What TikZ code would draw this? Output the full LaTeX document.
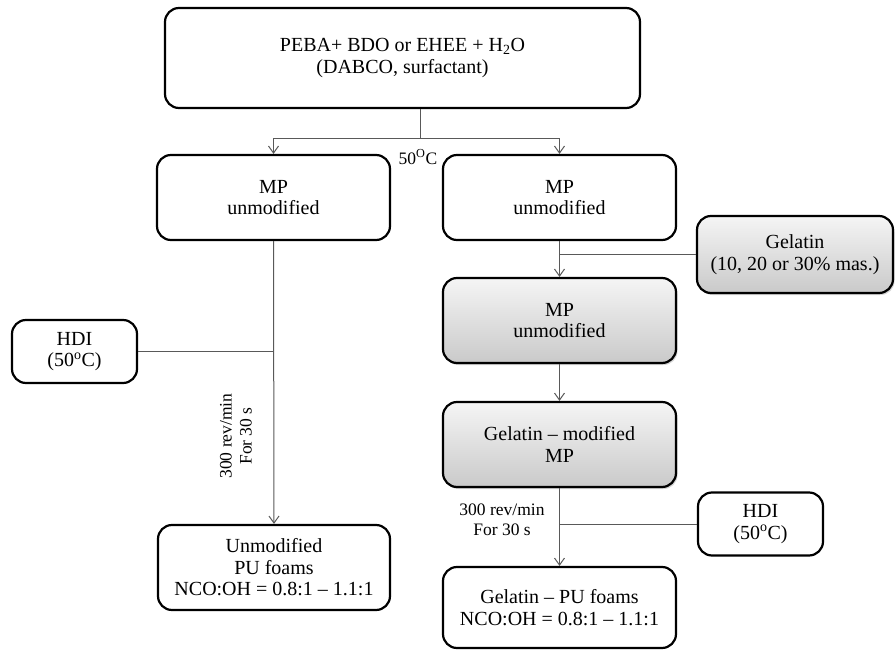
\documentclass[tikz,border=0pt]{standalone}
\usepackage{fontspec}
\setmainfont{Liberation Serif}
\usetikzlibrary{arrows.meta,shadows}
\begin{document}
\begin{tikzpicture}[x=1pt,y=-1pt,
  box/.style={draw=black,line width=2.2pt,rounded corners=14pt,fill=white,align=center,inner sep=0pt,font=\fontsize{20}{21.5}\selectfont},
  graybox/.style={box,top color=gray!8,bottom color=gray!42,drop shadow={shadow xshift=1.5pt,shadow yshift=-2pt,opacity=0.35,fill=gray}},
  conn/.style={draw=black!65,line width=1pt},
  arr/.style={conn,-{Straight Barb[length=7pt,width=10pt]}},
  lbl/.style={font=\fontsize{17.5}{20}\selectfont,align=center,inner sep=0pt}]
\useasboundingbox (0,0) rectangle (895,650);

\node[box,minimum width=475pt,minimum height=100pt] (top) at (402.5,58) {PEBA+ BDO or EHEE + H\textsubscript{2}O\\(DABCO, surfactant)};
\node[box,minimum width=233pt,minimum height=85pt] (mpL) at (273.5,197.5) {MP\\unmodified};
\node[box,minimum width=233pt,minimum height=85pt] (mpR) at (559.5,197.5) {MP\\unmodified};
\node[graybox,minimum width=196pt,minimum height=77pt] (gel) at (795,254.5) {Gelatin\\(10, 20 or 30\% mas.)};
\node[graybox,minimum width=233pt,minimum height=85pt] (mpG) at (559.5,320.5) {MP\\unmodified};
\node[graybox,minimum width=233pt,minimum height=85pt] (gmod) at (559.5,444.5) {Gelatin – modified\\MP};
\node[box,minimum width=233pt,minimum height=81pt] (puR) at (559.5,607.5) {Gelatin – PU foams\\NCO:OH = 0.8:1 – 1.1:1};
\node[box,minimum width=232pt,minimum height=85pt] (puL) at (274,567.5) {Unmodified\\PU foams\\NCO:OH = 0.8:1 – 1.1:1};
\node[box,minimum width=125pt,minimum height=63pt] (hdiL) at (74.5,351.5) {HDI\\(50\textsuperscript{o}C)};
\node[box,minimum width=125pt,minimum height=63pt] (hdiR) at (760.5,524) {HDI\\(50\textsuperscript{o}C)};

\coordinate (split) at (420,139);
\draw[conn] (top.south -| split) -- (split);
\draw[arr] (split) -| (mpL.north);
\draw[arr] (split) -| (mpR.north);
\draw[arr] (mpL.south) -- (puL.north);
\draw[conn] (hdiL.east) -- (hdiL.east -| mpL.south);
\draw[arr] (mpR.south) -- (mpG.north);
\draw[conn] (gel.west) -- (gel.west -| mpR.south);
\draw[arr] (mpG.south) -- (gmod.north);
\draw[arr] (gmod.south) -- (puR.north);
\draw[conn] (hdiR.west) -- (hdiR.west -| gmod.south);

\node[lbl] (t50) at (418,157) {50\textsuperscript{O}C};
\node[lbl,rotate=90] (rpmL) at (236,436) {300 rev/min\\For 30 s};
\node[lbl] (rpmR) at (502,520) {300 rev/min\\For 30 s};
\end{tikzpicture}
\end{document}
